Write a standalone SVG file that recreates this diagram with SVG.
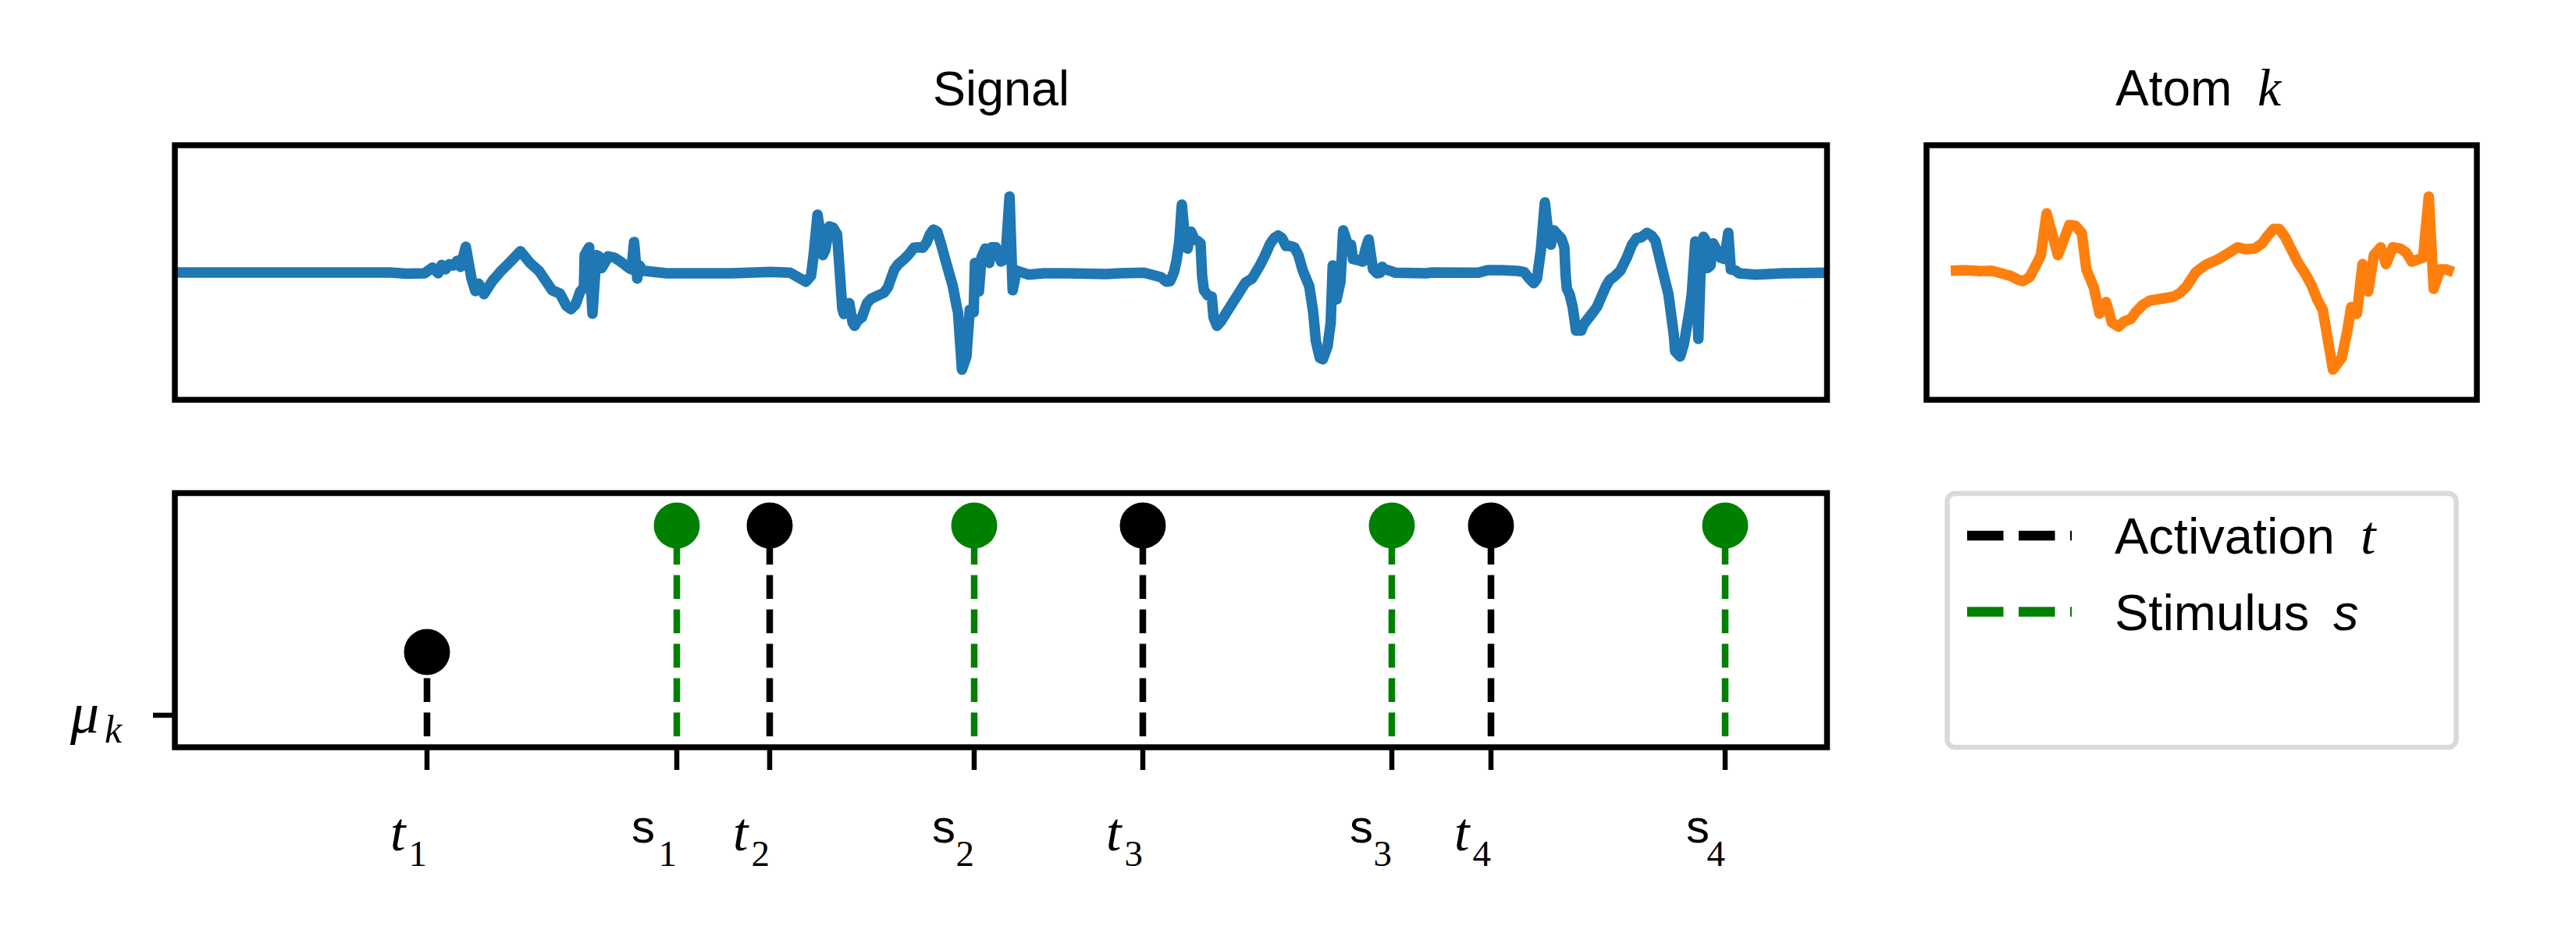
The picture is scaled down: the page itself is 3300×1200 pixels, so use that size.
<svg xmlns="http://www.w3.org/2000/svg" width="3300" height="1200" viewBox="0 0 3300 1200">
<style>
.frame{fill:none;stroke:#000;stroke-width:7.5}
.sig{fill:none;stroke:#1f77b4;stroke-width:13.5;stroke-linejoin:round;stroke-linecap:butt}
.atom{fill:none;stroke:#ff7f0e;stroke-width:13.5;stroke-linejoin:round;stroke-linecap:butt}
.stemk{fill:none;stroke:#000;stroke-width:8.5;stroke-dasharray:30.5 13.5}
.stemg{fill:none;stroke:#008000;stroke-width:8.5;stroke-dasharray:30.5 13.5}
.dotk{fill:#000}
.dotg{fill:#008000}
.tick{stroke:#000;stroke-width:6.5}
.sans{font-family:"Liberation Sans",Arial,sans-serif;fill:#000}
.math{font-family:"Liberation Serif","Times New Roman",serif;font-style:italic;fill:#000}
.num{font-family:"Liberation Serif","Times New Roman",serif;fill:#000}
.legbox{fill:#fff;stroke:#d9d9d9;stroke-width:6.5}
.legk{stroke:#000;stroke-width:12.5;stroke-dasharray:46.5 19.5}
.legg{stroke:#008000;stroke-width:12.5;stroke-dasharray:46.5 19.5}
</style>
<rect width="3300" height="1200" fill="#fff"/>

<g id="signal-panel">
<text class="sans" x="1282.5" y="135" font-size="63" text-anchor="middle">Signal</text>
<clipPath id="clipSig"><rect x="224" y="186" width="2116.5" height="326"/></clipPath>
<path class="sig" clip-path="url(#clipSig)" d="M224,349 L500,349 L520,350.5 L544,350 L554,342.7 L561.3,350 L565.7,339.3 L570.7,345 L575.7,338.3 L580.7,340 L585.7,334 L590,341.7 L596.7,316 L604,356.7 L609,372.7 L613.3,363.3 L620,376.7 L630.7,360 L640.7,348.3 L654,335 L666.7,321.7 L679,336.7 L690.7,347.3 L707.3,371.7 L717.3,376 L725.7,391.7 L731.3,396 L737.3,390 L743.3,373.3 L748,368.3 L749,326.7 L754.7,316.7 L759,401.7 L764,326.7 L767.3,328.3 L770.7,343.3 L775.7,335 L779,328.3 L787.3,330 L797.3,336.7 L805.7,343.3 L809,345 L812.3,310 L816.3,356.7 L819,340 L824,346.7 L854,350 L937.3,350 L987.3,348.3 L1012.3,349.3 L1032.3,360.7 L1039,353.3 L1042.3,326.7 L1047.3,275 L1050.7,296.7 L1054,326.7 L1057.3,320 L1062.3,290 L1067.3,291.7 L1072.3,300 L1075.7,346.7 L1079,395 L1081,402 L1084.5,389 L1088,388.3 L1092.3,413.3 L1094.7,417.3 L1099,410 L1104,406.7 L1110.7,388.3 L1115.7,382.7 L1132.3,375 L1137.3,368.3 L1145.7,345 L1150.7,338.3 L1157.3,332.7 L1164,326 L1170.7,317.3 L1175.7,316.7 L1182.3,317.3 L1187.3,310 L1191.3,300 L1195.7,294 L1200.7,296.7 L1205.7,313.3 L1214,343.3 L1220.7,366.7 L1225.7,393.3 L1227.3,400 L1232.3,473.3 L1238,456.7 L1242.3,396.7 L1247.3,400 L1249,336.7 L1254,373.3 L1257.3,330 L1262.3,318.3 L1267.3,336.7 L1270.7,316.7 L1275.7,316.7 L1282.3,335 L1288,331.7 L1293.3,251.7 L1297.3,371.7 L1302.3,346.7 L1317.3,351.7 L1337.3,350 L1367.3,350 L1417.3,351 L1434,350 L1465.7,349.3 L1487.3,355 L1494,360.7 L1499,360 L1504,348.3 L1507.3,333.3 L1510.7,310 L1514,262 L1519,316.7 L1521.3,318.3 L1525.7,296.7 L1530,306 L1534,308.3 L1538,311.7 L1540,353.3 L1542.3,371.7 L1547.3,378.3 L1552.3,380 L1554.7,406.7 L1559,417.3 L1564,411.7 L1595.7,361.7 L1604,356.7 L1614,340 L1620.7,326.7 L1627.3,311.7 L1632.3,305 L1637.3,301.7 L1642.3,305 L1647.3,315 L1652.3,315 L1658,316.7 L1663.3,326.7 L1669,346.7 L1677.3,366.7 L1682.3,400 L1685.7,436.7 L1690.7,458.3 L1694.7,460 L1700.7,443.3 L1704.7,413.3 L1707.3,340 L1709,343.3 L1712.3,383.3 L1717.3,360 L1720.7,295 L1726.7,313.3 L1730.7,313.3 L1733.3,331.7 L1740.7,333.3 L1745.7,335 L1749,320 L1753.3,306.7 L1756.7,330 L1759,345 L1764,350 L1768,349.3 L1770.7,341.7 L1774,345 L1780.7,346.7 L1787.3,349.3 L1827.3,350 L1834,349 L1894,349.3 L1905.7,346 L1924,346 L1944,347 L1952.3,348.3 L1959,356.7 L1964.7,362.7 L1969,356.7 L1974,320 L1979,259.3 L1983.3,298.3 L1986.7,313.3 L1990.7,295 L1995.7,300.7 L2000,305 L2004,316.7 L2005.7,353.3 L2007.3,370 L2010.7,376.7 L2014.7,393.3 L2019,423.3 L2025.7,423.3 L2029,415 L2040.7,400 L2045.7,393.3 L2057.3,366.7 L2062.3,358.3 L2069,353.3 L2075.7,346.7 L2084,330 L2090.7,313.3 L2096.7,305 L2102.3,304 L2110,298.3 L2115.7,301.7 L2120.7,308.3 L2126.7,333.3 L2130.7,350 L2137.3,376.7 L2144,426.7 L2146,450 L2152.3,456.7 L2157.3,440 L2164,400 L2167.3,376.7 L2171.7,309.3 L2175.7,434 L2179,333.3 L2182.3,303.3 L2184.7,307.3 L2187.3,343.3 L2191.3,340 L2194.7,311.7 L2199,320 L2204,330 L2209,331.7 L2214,298.3 L2217.3,345 L2224,346.7 L2227.3,350 L2249,351.7 L2284,350 L2340.5,349.3"/>
<rect class="frame" x="224" y="186" width="2116.5" height="326"/>
</g>

<g id="atom-panel">
<text x="2710" y="135" font-size="64"><tspan class="sans">Atom</tspan><tspan class="math" x="2892" font-size="68">k</tspan></text>
<path class="atom" d="M2499,346.7 L2517.6,346 L2537,347.3 L2551.5,346.7 L2575.7,353.3 L2585.4,358.3 L2591.2,360 L2600,355 L2609.7,336.7 L2614.5,326.7 L2621.8,273.3 L2636.3,326.7 L2650.9,288.3 L2659.1,289.3 L2666.9,298.3 L2672.7,345 L2682.4,368.3 L2689.6,401.7 L2697.9,386.7 L2705.6,413.3 L2713.9,418.3 L2721.1,411.7 L2729.9,408.3 L2735.7,400 L2745.4,390 L2754.1,385 L2784.2,380 L2792.9,375 L2801.1,366.7 L2813.2,348.3 L2825.3,339.3 L2842.3,331.7 L2866.6,316.7 L2876.3,319.3 L2888.4,318.3 L2898.1,311.7 L2904.4,302.7 L2912.6,293.3 L2919.9,293.3 L2927.2,303.3 L2944.1,336.7 L2953.8,351.7 L2961.1,365 L2968.4,383.3 L2975.6,396.7 L2982.9,440 L2988.7,473.3 L2999.9,458.3 L3007.1,423.3 L3012,393.3 L3019.3,401.7 L3026.5,338.3 L3033.8,373.3 L3041.1,326.7 L3049.8,316.7 L3056.6,338.3 L3065.3,316.7 L3075,318.3 L3082.3,323.3 L3089.6,335 L3099.3,331.7 L3104.1,330 L3111.4,251.7 L3117.7,370 L3125.9,345 L3133.2,345 L3143,348.3"/>
<rect class="frame" x="2468" y="186" width="705" height="326"/>
</g>

<g id="activation-panel">
<rect class="frame" x="224" y="631.5" width="2116.5" height="325.5"/>
<line class="tick" x1="196" y1="916" x2="224" y2="916"/>
<text x="90" y="938" font-size="74"><tspan class="math">μ</tspan><tspan class="math" x="134" y="951" font-size="50">k</tspan></text>
</g>

<g id="connectors">
<path class="stemk" d="M547,943 V835"/>
<path class="stemg" d="M867,943 V673"/>
<path class="stemk" d="M986,943 V673"/>
<path class="stemg" d="M1248,943 V673"/>
<path class="stemk" d="M1464,943 V673"/>
<path class="stemg" d="M1783,943 V673"/>
<path class="stemk" d="M1910,943 V673"/>
<path class="stemg" d="M2210,943 V673"/>
</g>

<g id="event-t1"><circle class="dotk" cx="547" cy="835" r="29.5"/><line class="tick" x1="547" y1="957" x2="547" y2="986"/><text class="math" x="500" y="1089" font-size="70">t</text><text class="num" x="547" y="1109" font-size="47" text-anchor="end">1</text></g>
<g id="event-s1"><circle class="dotg" cx="867" cy="673" r="29.5"/><line class="tick" x1="867" y1="957" x2="867" y2="986"/><text class="sans" x="809" y="1079" font-size="60">s</text><text class="num" x="867" y="1109" font-size="47" text-anchor="end">1</text></g>
<g id="event-t2"><circle class="dotk" cx="986" cy="673" r="29.5"/><line class="tick" x1="986" y1="957" x2="986" y2="986"/><text class="math" x="939" y="1089" font-size="70">t</text><text class="num" x="986" y="1109" font-size="47" text-anchor="end">2</text></g>
<g id="event-s2"><circle class="dotg" cx="1248" cy="673" r="29.5"/><line class="tick" x1="1248" y1="957" x2="1248" y2="986"/><text class="sans" x="1194" y="1079" font-size="60">s</text><text class="num" x="1248" y="1109" font-size="47" text-anchor="end">2</text></g>
<g id="event-t3"><circle class="dotk" cx="1464" cy="673" r="29.5"/><line class="tick" x1="1464" y1="957" x2="1464" y2="986"/><text class="math" x="1417" y="1089" font-size="70">t</text><text class="num" x="1464" y="1109" font-size="47" text-anchor="end">3</text></g>
<g id="event-s3"><circle class="dotg" cx="1783" cy="673" r="29.5"/><line class="tick" x1="1783" y1="957" x2="1783" y2="986"/><text class="sans" x="1729" y="1079" font-size="60">s</text><text class="num" x="1783" y="1109" font-size="47" text-anchor="end">3</text></g>
<g id="event-t4"><circle class="dotk" cx="1910" cy="673" r="29.5"/><line class="tick" x1="1910" y1="957" x2="1910" y2="986"/><text class="math" x="1863" y="1089" font-size="70">t</text><text class="num" x="1910" y="1109" font-size="47" text-anchor="end">4</text></g>
<g id="event-s4"><circle class="dotg" cx="2210" cy="673" r="29.5"/><line class="tick" x1="2210" y1="957" x2="2210" y2="986"/><text class="sans" x="2160" y="1079" font-size="60">s</text><text class="num" x="2210" y="1109" font-size="47" text-anchor="end">4</text></g>

<g id="legend">
<rect class="legbox" x="2494.5" y="632" width="652" height="325" rx="10"/>
<line class="legk" x1="2520" y1="686" x2="2654" y2="686"/>
<text x="2709" y="709" font-size="65"><tspan class="sans">Activation</tspan><tspan class="math" x="3024" font-size="70">t</tspan></text>
<line class="legg" x1="2520" y1="783.5" x2="2654" y2="783.5"/>
<text x="2709" y="807" font-size="65"><tspan class="sans">Stimulus</tspan><tspan class="sans" x="2989" font-style="italic">s</tspan></text>
</g>
</svg>
